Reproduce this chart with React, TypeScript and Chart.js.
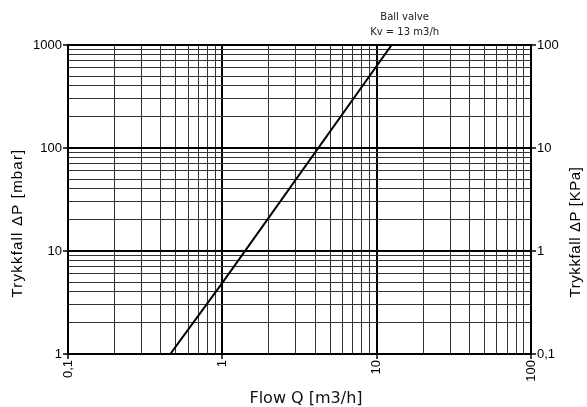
import React, { useEffect, useRef } from "react";
import { Chart, registerables } from "chart.js";

Chart.register(...registerables);

// Series
const flowQ = [0.46, 1, 12.5];
const pressureMbar = [1, 4.9, 1000];

// Axis structure
const xDecades = [0.1, 1, 10, 100];
const xDecadeLabels = ["0,1", "1", "10", "100"];
const yDecades = [1, 10, 100, 1000];
const yDecadeLabels = ["1", "10", "100", "1000"];
const y2Decades = [0.1, 1, 10, 100];
const y2DecadeLabels = ["0,1", "1", "10", "100"];
const minorSteps = [1, 2, 3, 4, 5, 6, 7, 8, 9];

const xTitle = "Flow Q [m3/h]";
const yTitle = "Trykkfall ΔP [mbar]";
const y2Title = "Trykkfall ΔP [KPa]";
const annotationLines = ["Ball valve", "Kv = 13 m3/h"];

function gridValues(decades: number[]): number[] {
  const out: number[] = [];
  for (let i = 0; i < decades.length - 1; i++) {
    for (const s of minorSteps) out.push(+(decades[i] * s).toPrecision(6));
  }
  out.push(decades[decades.length - 1]);
  return out;
}

function isDecade(v: number): boolean {
  const l = Math.log10(v);
  return Math.abs(l - Math.round(l)) < 1e-6;
}

function labelFor(decades: number[], labels: string[], v: number): string {
  for (let i = 0; i < decades.length; i++) {
    if (Math.abs(decades[i] - v) / decades[i] < 1e-6) return labels[i];
  }
  return "";
}

const tickFont = { family: "'Liberation Sans', Arial, sans-serif", size: 13 };

export default function App() {
  const ref = useRef<HTMLCanvasElement | null>(null);

  useEffect(() => {
    document.body.style.margin = "0";
    const canvas = ref.current;
    if (!canvas) return;

    const titlesPlugin = {
      id: "titlesPlugin",
      afterDraw(chart: any) {
        const ctx = chart.ctx as CanvasRenderingContext2D;
        ctx.save();
        ctx.fillStyle = "#000";
        ctx.textAlign = "center";
        ctx.textBaseline = "middle";
        // left title
        ctx.font = "15px 'Liberation Sans', Arial, sans-serif";
        (ctx as any).letterSpacing = "1.2px";
        ctx.save();
        ctx.translate(18, 223);
        ctx.rotate(-Math.PI / 2);
        ctx.fillText(yTitle, 0, 0);
        ctx.restore();
        // right title
        (ctx as any).letterSpacing = "0.6px";
        ctx.save();
        ctx.translate(576, 232);
        ctx.rotate(-Math.PI / 2);
        ctx.fillText(y2Title, 0, 0);
        ctx.restore();
        (ctx as any).letterSpacing = "0px";
        // bottom title
        ctx.font = "16px 'DejaVu Sans', sans-serif";
        ctx.fillStyle = "#111";
        ctx.fillText(xTitle, 306, 399);
        // annotation
        ctx.font = "10px 'DejaVu Sans', sans-serif";
        ctx.fillStyle = "#222";
        const xs = chart.scales.x;
        const ax = xs.getPixelForValue(flowQ[flowQ.length - 1]) + 13;
        ctx.fillText(annotationLines[0], ax, 17.5);
        ctx.fillText(annotationLines[1], ax, 32);
        ctx.restore();
      },
    };

    const gridCommon = {
      lineWidth: (c: any) => (c.tick && isDecade(c.tick.value) ? 2 : 1),
      color: (c: any) => (c.tick && isDecade(c.tick.value) ? "#000" : "#333"),
      tickColor: (c: any) => (c.tick && isDecade(c.tick.value) ? "#000" : "rgba(0,0,0,0)"),
      tickLength: 5,
      tickWidth: 1.5,
    };

    const chart = new Chart(canvas, {
      type: "line",
      data: {
        datasets: [
          {
            data: flowQ.map((q, i) => ({ x: q, y: pressureMbar[i] })),
            borderColor: "#000",
            borderWidth: 2,
            pointRadius: 0,
            fill: false,
            tension: 0,
            yAxisID: "y",
          },
        ],
      },
      options: {
        animation: false,
        responsive: false,
        devicePixelRatio: 1,
        layout: { padding: { top: 45, left: 0, right: 0, bottom: 0 } },
        plugins: { legend: { display: false }, tooltip: { enabled: false } },
        scales: {
          x: {
            type: "logarithmic",
            position: "bottom",
            min: 0.1,
            max: 100,
            afterBuildTicks: (s: any) => {
              s.ticks = gridValues(xDecades).map((v) => ({ value: v, major: isDecade(v) }));
            },
            afterFit: (s: any) => {
              s.height = 53;
            },
            ticks: {
              autoSkip: false,
              maxRotation: 90,
              minRotation: 90,
              padding: 1,
              color: "#000",
              font: tickFont,
              callback: (v: any) => labelFor(xDecades, xDecadeLabels, Number(v)),
            },
            grid: gridCommon as any,
            border: { display: true, width: 2, color: "#000" },
          },
          y: {
            type: "logarithmic",
            position: "left",
            min: 1,
            max: 1000,
            afterBuildTicks: (s: any) => {
              s.ticks = gridValues(yDecades).map((v) => ({ value: v, major: isDecade(v) }));
            },
            afterFit: (s: any) => {
              s.width = 68;
            },
            ticks: {
              autoSkip: false,
              padding: 1,
              color: "#000",
              font: tickFont,
              callback: (v: any) => labelFor(yDecades, yDecadeLabels, Number(v)),
            },
            grid: gridCommon as any,
            border: { display: true, width: 2, color: "#000" },
          },
          y2: {
            type: "logarithmic",
            position: "right",
            min: 0.1,
            max: 100,
            afterBuildTicks: (s: any) => {
              s.ticks = gridValues(y2Decades).map((v) => ({ value: v, major: isDecade(v) }));
            },
            afterFit: (s: any) => {
              s.width = 56;
            },
            ticks: {
              autoSkip: false,
              padding: 1,
              color: "#000",
              font: tickFont,
              callback: (v: any) => labelFor(y2Decades, y2DecadeLabels, Number(v)),
            },
            grid: { ...(gridCommon as any), drawOnChartArea: false },
            border: { display: true, width: 2, color: "#000" },
          },
        },
      } as any,
      plugins: [titlesPlugin],
    });

    return () => chart.destroy();
  }, []);

  return (
    <div style={{ width: 587, height: 407, position: "relative" }}>
      <canvas ref={ref} width={587} height={407} style={{ width: 587, height: 407, display: "block" }} />
    </div>
  );
}
